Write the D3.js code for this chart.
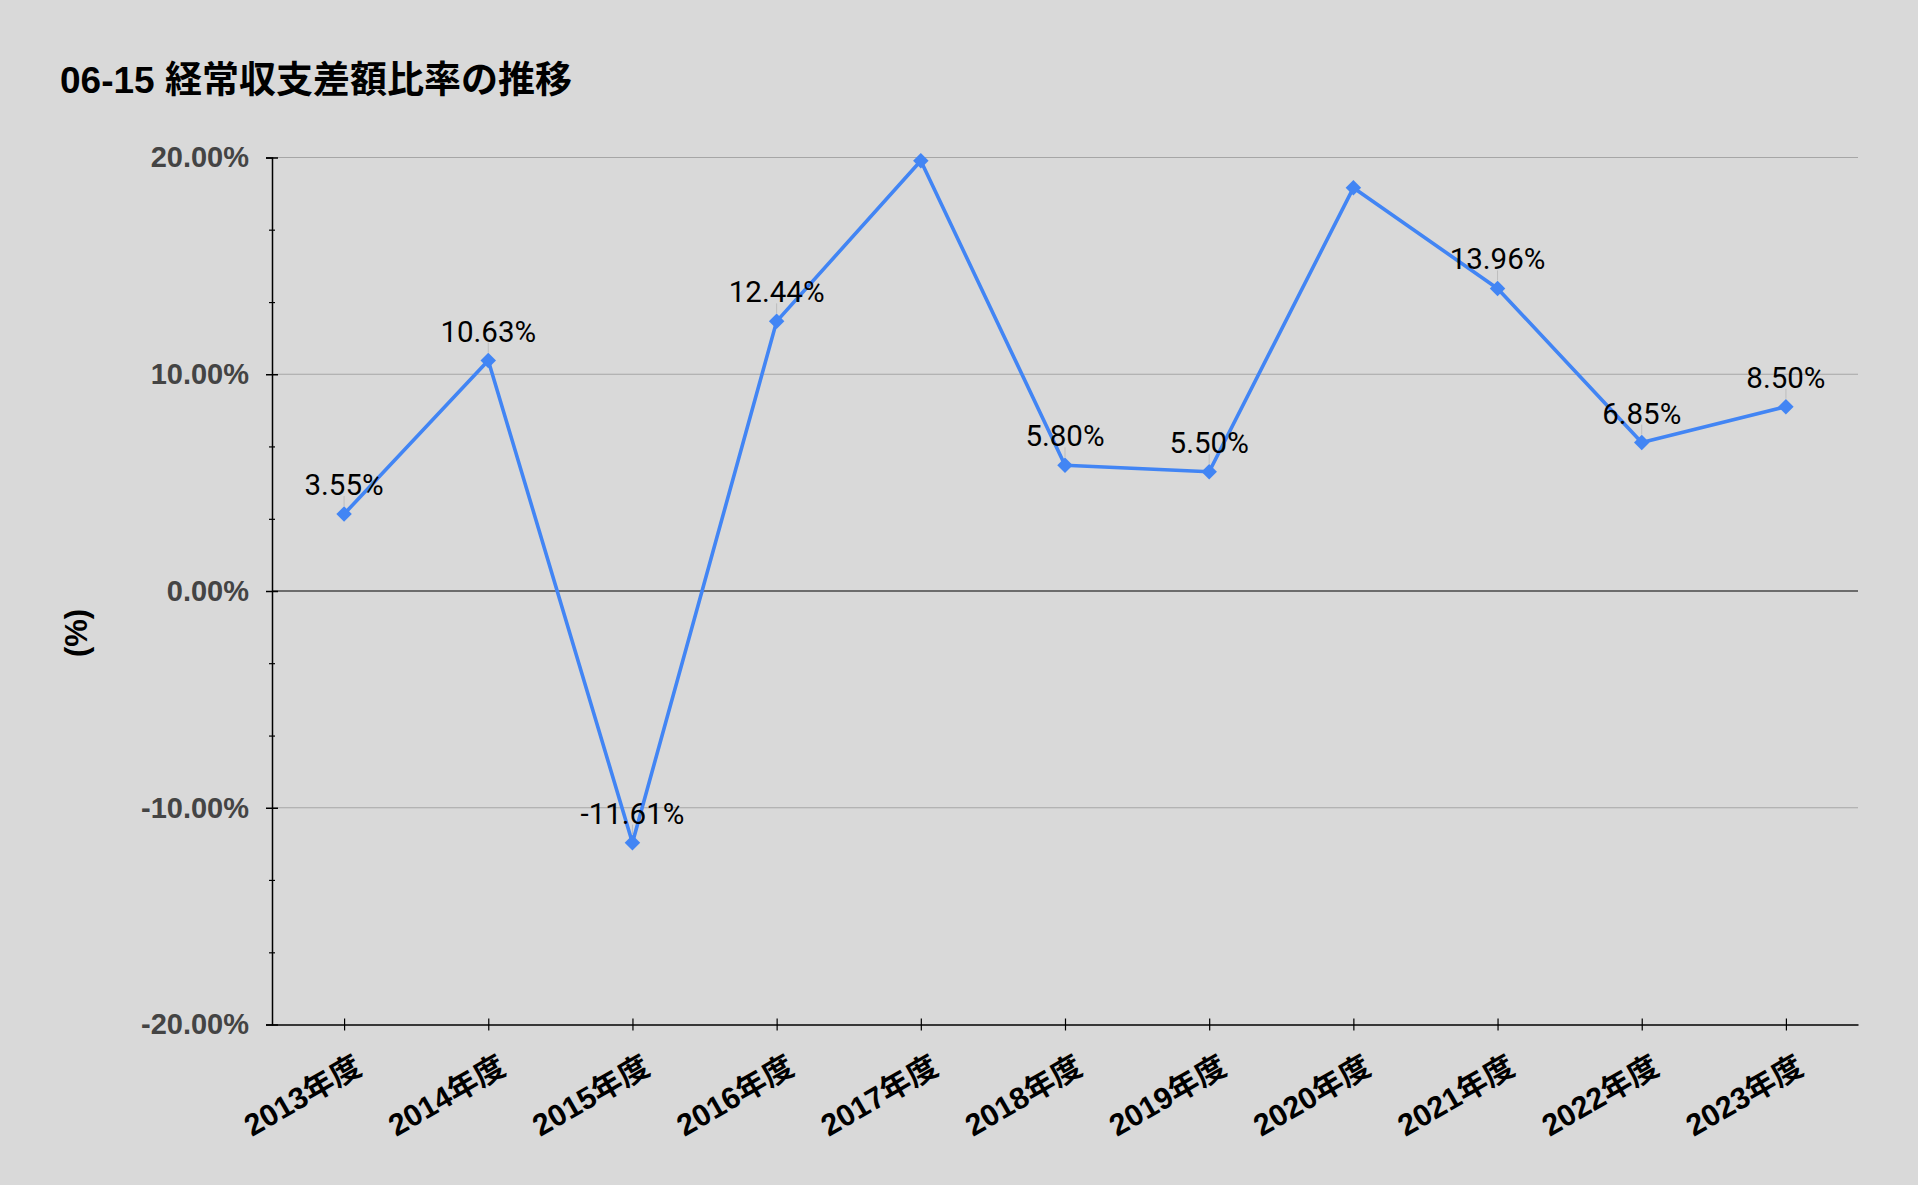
<html>
<head>
<meta charset="utf-8">
<script src="https://d3js.org/d3.v7.min.js"></script>
<style>
  body { margin: 0; background: #d9d9d9; }
</style>
</head>
<body>
<script>
// chart data
const categories = ["2013年度", "2014年度", "2015年度", "2016年度", "2017年度", "2018年度",
                    "2019年度", "2020年度", "2021年度", "2022年度", "2023年度"];
const values = [3.55, 10.63, -11.61, 12.44, 19.85, 5.80, 5.50, 18.60, 13.96, 6.85, 8.50];
// labels that appear in the picture (2017 and 2020 have none)
const showLabel = [true, true, true, true, false, true, true, false, true, true, true];
const majorTicks = [-20, -10, 0, 10, 20];
const minorTicks = [-16.67, -13.33, -6.67, -3.33, 3.33, 6.67, 13.33, 16.67];

const width = 1918, height = 1185;
const margin = {top: 157.5, right: 60, bottom: 160.5, left: 272};
const latin = "'Liberation Sans', 'Noto Sans CJK JP', sans-serif";

// plain hyphen for negatives, like the original
const pct = d3.formatLocale({decimal: ".", thousands: ",", grouping: [3], currency: ["", ""], minus: "-"})
  .format(".2f");

const svg = d3.select("body").append("svg")
  .attr("width", width)
  .attr("height", height)
  .style("display", "block");

svg.append("rect").attr("width", width).attr("height", height).attr("fill", "#d9d9d9");

const x = d3.scalePoint()
  .domain(categories)
  .range([margin.left, width - margin.right])
  .padding(0.5);

const y = d3.scaleLinear()
  .domain([-20, 20])
  .range([height - margin.bottom, margin.top]);

// title
svg.append("text")
  .attr("x", 60)
  .attr("y", 93)
  .attr("font-family", latin)
  .attr("font-weight", "bold")
  .attr("font-size", 37)
  .attr("fill", "#000")
  .text("06-15 経常収支差額比率の推移");

// y axis title
svg.append("text")
  .attr("transform", "translate(87,633) rotate(-90)")
  .attr("text-anchor", "middle")
  .attr("font-family", latin)
  .attr("font-weight", "bold")
  .attr("font-size", 31)
  .text("(%)");

// gridlines
svg.append("g")
  .selectAll("line")
  .data(majorTicks.filter(d => d !== -20))
  .join("line")
    .attr("x1", margin.left)
    .attr("x2", width - margin.right)
    .attr("y1", d => y(d))
    .attr("y2", d => y(d))
    .attr("stroke", d => d === 0 ? "#000" : "#a6a6a6")
    .attr("stroke-width", 1.2);

// y axis
const yAxis = svg.append("g")
  .attr("transform", `translate(${margin.left},0)`)
  .call(d3.axisLeft(y).tickValues(majorTicks).tickSize(6).tickFormat(d => pct(d) + "%"));
yAxis.select(".domain").attr("stroke", "#000").attr("stroke-width", 1.5);
yAxis.selectAll(".tick line").attr("x1", 6).attr("stroke", "#000").attr("stroke-width", 1.5);
yAxis.selectAll(".tick text")
  .attr("x", -23)
  .attr("font-family", latin)
  .attr("font-weight", "bold")
  .attr("font-size", 29)
  .attr("fill", "#444");

const yMinor = svg.append("g")
  .attr("transform", `translate(${margin.left},0)`)
  .call(d3.axisLeft(y).tickValues(minorTicks).tickSize(3).tickFormat(""));
yMinor.select(".domain").remove();
yMinor.selectAll(".tick line").attr("x1", 3).attr("stroke", "#000").attr("stroke-width", 1.2);

// x axis
const xAxis = svg.append("g")
  .attr("transform", `translate(0,${y(-20)})`)
  .call(d3.axisBottom(x).tickSize(6).tickSizeOuter(0));
xAxis.select(".domain").attr("stroke", "#000").attr("stroke-width", 1.5);
xAxis.selectAll(".tick line").attr("y1", -6).attr("stroke", "#000").attr("stroke-width", 1.2);
xAxis.selectAll(".tick text")
  .attr("text-anchor", "end")
  .attr("transform", "translate(19,48) rotate(-30)")
  .attr("y", 0)
  .attr("dy", 0)
  .attr("font-family", latin)
  .attr("font-weight", "bold")
  .attr("font-size", 30.5)
  .attr("fill", "#000");

// series
const data = categories.map((c, i) => ({cat: c, value: values[i], show: showLabel[i]}));

svg.append("path")
  .datum(data)
  .attr("fill", "none")
  .attr("stroke", "#4285f4")
  .attr("stroke-width", 3.6)
  .attr("stroke-linejoin", "round")
  .attr("d", d3.line().x(d => x(d.cat)).y(d => y(d.value)));

// leader lines between labels and points
svg.append("g")
  .selectAll("line")
  .data(data.filter(d => d.show))
  .join("line")
    .attr("x1", d => x(d.cat))
    .attr("x2", d => x(d.cat))
    .attr("y1", d => y(d.value) - 8)
    .attr("y2", d => y(d.value) - 18)
    .attr("stroke", "#bdbdbd")
    .attr("stroke-width", 1);

svg.append("g")
  .selectAll("path")
  .data(data)
  .join("path")
    .attr("transform", d => `translate(${x(d.cat)},${y(d.value)}) rotate(45)`)
    .attr("d", d3.symbol(d3.symbolSquare, 120))
    .attr("fill", "#4285f4");

svg.append("g")
  .selectAll("text")
  .data(data.filter(d => d.show))
  .join("text")
    .attr("x", d => x(d.cat))
    .attr("y", d => y(d.value) - 19)
    .attr("text-anchor", "middle")
    .attr("font-family", "Roboto, sans-serif")
    .attr("font-size", 29.5)
    .attr("fill", "#000")
    .text(d => pct(d.value) + "%");
</script>
</body>
</html>
